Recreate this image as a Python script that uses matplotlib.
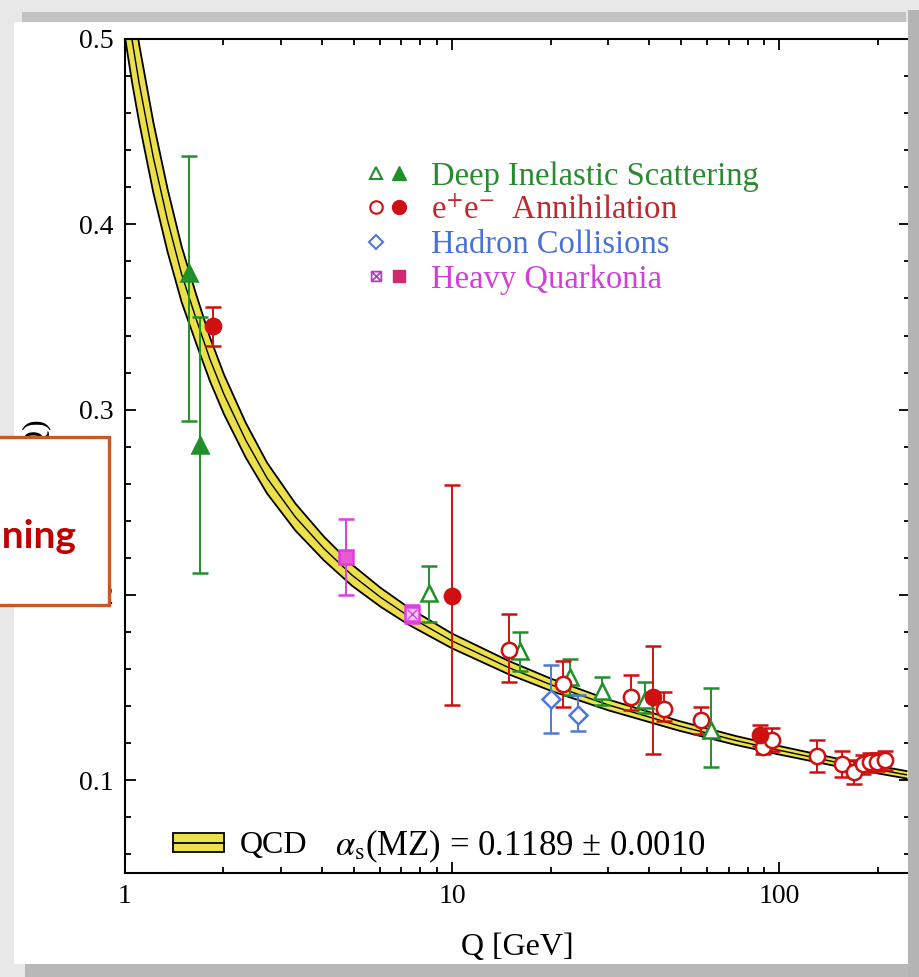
import matplotlib
matplotlib.use("Agg")
import matplotlib.pyplot as plt
from matplotlib.patches import Rectangle, Patch
from matplotlib.lines import Line2D
from matplotlib.path import Path
from matplotlib.legend_handler import HandlerTuple
from matplotlib.ticker import MultipleLocator, LogLocator, FixedFormatter, FixedLocator, NullFormatter

plt.rcParams['font.family'] = ['Liberation Serif', 'DejaVu Serif']
plt.rcParams['mathtext.fontset'] = 'stix'

# QCD band
qcd_q = [1.0, 1.05, 1.105, 1.221, 1.35, 1.49, 1.65, 1.82, 2.01, 2.34, 2.72, 3.32, 4.06,
         4.95, 6.05, 7.39, 9.97, 14.9, 20.1, 30.0, 49.4, 73.7, 99.5, 148, 245]
qcd_alpha = [0.525, 0.500, 0.476, 0.436, 0.402, 0.373, 0.349, 0.327, 0.308, 0.2835, 0.263,
             0.242, 0.225, 0.2106, 0.1987, 0.1884, 0.1753, 0.1608, 0.1515, 0.1407, 0.1294,
             0.1215, 0.1163, 0.1099, 0.1030]
qcd_half = [0.024, 0.023, 0.021, 0.019, 0.017, 0.015, 0.0132, 0.0118, 0.0107, 0.0094,
            0.0083, 0.0073, 0.0064, 0.0057, 0.0051, 0.0046, 0.0040, 0.0036, 0.0033, 0.0029,
            0.0026, 0.0024, 0.0023, 0.0021, 0.0020]

# Deep inelastic scattering
dis_open_q = [8.5, 16.1, 22.9, 28.8, 38.9, 62]
dis_open_a = [0.201, 0.170, 0.156, 0.148, 0.1435, 0.1274]
dis_open_lo = [0.0155, 0.011, 0.0097, 0.0075, 0.007, 0.0204]
dis_open_hi = [0.0145, 0.010, 0.0097, 0.0075, 0.0097, 0.0226]
dis_fill_q = [1.57, 1.70]
dis_fill_a = [0.374, 0.281]
dis_fill_lo = [0.080, 0.069]
dis_fill_hi = [0.063, 0.069]

# e+e- annihilation
ee_fill_q = [1.86, 10.0, 41.2, 87.5]
ee_fill_a = [0.345, 0.1995, 0.145, 0.1247]
ee_fill_lo = [0.0108, 0.0586, 0.0306, 0.006]
ee_fill_hi = [0.0102, 0.060, 0.0274, 0.0054]
ee_open_q = [14.9, 21.9, 35.3, 44.5, 57.7, 89.3, 95.2, 130.7, 156, 169.6, 180.6, 189.8, 199.5, 211]
ee_open_a = [0.1704, 0.152, 0.1452, 0.1387, 0.1323, 0.118, 0.122, 0.113, 0.1086, 0.1043,
             0.1086, 0.1097, 0.110, 0.1108]
ee_open_lo = [0.0172, 0.0124, 0.0075, 0.0065, 0.0075, 0.004, 0.006, 0.0085, 0.007, 0.0065,
              0.005, 0.005, 0.005, 0.005]
ee_open_hi = [0.0194, 0.0124, 0.0118, 0.009, 0.0075, 0.004, 0.006, 0.0085, 0.007, 0.0065,
              0.005, 0.005, 0.005, 0.005]

# Hadron collisions
had_q = [20.1, 24.3]
had_a = [0.144, 0.1355]
had_lo = [0.0183, 0.0091]
had_hi = [0.0183, 0.0108]

# Heavy quarkonia
hq_fill_q = [4.74]
hq_fill_a = [0.2204]
hq_fill_err = [0.0204]
hq_box_q = [7.55]
hq_box_a = [0.1898]
hq_box_err = [0.005]

GREEN = '#22902a'
RED = '#d01010'
BLUE = '#4f78d8'
MAG = '#e03ce0'
YELLOW = '#ebe04a'

W, H = 920, 977
fig = plt.figure(figsize=(W / 100, H / 100), dpi=100, facecolor='#e8e8e8')


def px_rect(x0, y0, x1, y1, **kw):
    return Rectangle((x0 / W, 1 - y1 / H), (x1 - x0) / W, (y1 - y0) / H,
                     transform=fig.transFigure, **kw)


# slide frame
fig.add_artist(px_rect(14, 22, 908, 964, facecolor='white', edgecolor='none', zorder=-5))
fig.add_artist(px_rect(22, 12, 906, 22, facecolor='#c2c2c2', edgecolor='none', zorder=-5))

ax = fig.add_axes([125 / W, 1 - 873 / H, 785 / W, 834 / H])
ax.set_xscale('log')
ax.set_xlim(1, 251)
ax.set_ylim(0.05, 0.5)

# QCD band
lo = [a - h for a, h in zip(qcd_alpha, qcd_half)]
hi = [a + h for a, h in zip(qcd_alpha, qcd_half)]
ax.fill_between(qcd_q, lo, hi, color=YELLOW, lw=0, zorder=1)
ax.plot(qcd_q, lo, color='black', lw=1.3, zorder=2)
ax.plot(qcd_q, hi, color='black', lw=1.3, zorder=2)
ax.plot(qcd_q, qcd_alpha, color='black', lw=1.0, zorder=2)

eb = dict(capsize=6, elinewidth=1.4, capthick=1.4, markersize=11, mew=1.8, ls='none', zorder=4)

ax.errorbar(dis_open_q, dis_open_a, yerr=[dis_open_lo, dis_open_hi], fmt='^',
            color=GREEN, mfc='white', mec=GREEN, **eb)
ax.errorbar(dis_fill_q, dis_fill_a, yerr=[dis_fill_lo, dis_fill_hi], fmt='^',
            color=GREEN, mfc=GREEN, mec=GREEN, **eb)
ax.errorbar(ee_open_q, ee_open_a, yerr=[ee_open_lo, ee_open_hi], fmt='o',
            color=RED, mfc='white', mec=RED, **eb)
ax.errorbar(ee_fill_q, ee_fill_a, yerr=[ee_fill_lo, ee_fill_hi], fmt='o',
            color=RED, mfc=RED, mec=RED, **eb)
ax.errorbar(had_q, had_a, yerr=[had_lo, had_hi], fmt='D',
            color=BLUE, mfc='white', mec=BLUE, **{**eb, 'markersize': 9})

boxx = Path([(-1, -1), (1, -1), (1, 1), (-1, 1), (-1, -1), (-1, -1), (1, 1), (-1, 1), (1, -1)],
            [Path.MOVETO, Path.LINETO, Path.LINETO, Path.LINETO, Path.CLOSEPOLY,
             Path.MOVETO, Path.LINETO, Path.MOVETO, Path.LINETO])
ax.errorbar(hq_box_q, hq_box_a, yerr=hq_box_err, fmt='s', color=MAG, mfc='#f6c8f6',
            mec=MAG, **{**eb, 'markersize': 10})
ax.plot(hq_box_q, hq_box_a, ls='none', marker='x', ms=7, mec=MAG, mew=1.0, zorder=5)
ax.errorbar(hq_fill_q, hq_fill_a, yerr=hq_fill_err, fmt='s', color=MAG, mfc='#e85ad0',
            mec=MAG, **{**eb, 'markersize': 10})

# axes styling
ax.xaxis.set_major_locator(FixedLocator([1, 10, 100]))
ax.xaxis.set_major_formatter(FixedFormatter(['1', '10', '100']))
ax.xaxis.set_minor_locator(LogLocator(base=10, subs=range(2, 10)))
ax.xaxis.set_minor_formatter(NullFormatter())
ax.yaxis.set_major_locator(MultipleLocator(0.1))
ax.yaxis.set_minor_locator(MultipleLocator(0.02))
ax.tick_params(which='both', direction='in', top=True, right=True, labelsize=20, width=1.3)
ax.tick_params(which='major', length=8, pad=8)
ax.tick_params(which='minor', length=4)
for s in ax.spines.values():
    s.set_linewidth(1.5)

ax.set_xlabel('Q [GeV]', fontsize=23, labelpad=17)
ax.set_ylabel(r'$\alpha_{\rm s}$(Q)', fontsize=23)
ax.yaxis.set_label_coords(-0.091, 0.5)

# experiment legend
leg_handles = [
    (Line2D([], [], ls='none', marker='^', ms=9, mfc='white', mec=GREEN, mew=1.5),
     Line2D([], [], ls='none', marker='^', ms=10, color=GREEN)),
    (Line2D([], [], ls='none', marker='o', ms=9, mfc='white', mec=RED, mew=1.5),
     Line2D([], [], ls='none', marker='o', ms=10, color=RED)),
    (Line2D([], [], ls='none', marker='D', ms=7, mfc='white', mec=BLUE, mew=1.5),
     Line2D([], [], ls='none', marker='none')),
    (Line2D([], [], ls='none', marker=boxx, ms=7, mfc='none', mec='#b040c0', mew=1.3),
     Line2D([], [], ls='none', marker='s', ms=9, color='#d02a70')),
]
leg_labels = ['Deep Inelastic Scattering', r'e$^{+}$e$^{-}$  Annihilation',
              'Hadron Collisions', 'Heavy Quarkonia']
leg_colors = ['#2a8a32', '#c0282d', '#4a72d4', '#d040d8']
leg = ax.legend(leg_handles, leg_labels, handler_map={tuple: HandlerTuple(ndivide=None, pad=0.17)},
                loc='upper left', bbox_to_anchor=((368 - 125) / 785, (873 - 161) / 834),
                frameon=False, fontsize=23.5, borderpad=0, borderaxespad=0,
                handlelength=1.2, handletextpad=0.73, labelspacing=0.12)
for t, c in zip(leg.get_texts(), leg_colors):
    t.set_color(c)
ax.add_artist(leg)

# QCD legend at bottom
band_handle = (Patch(facecolor=YELLOW, edgecolor='black', lw=1.3),
               Line2D([], [], color='black', lw=1.3))
ax.legend([band_handle], ['QCD'], handler_map={tuple: HandlerTuple(ndivide=1)},
          loc='center left', bbox_to_anchor=((173 - 125) / 785, (873 - 846) / 834),
          frameon=False, fontsize=23, borderpad=0, borderaxespad=0,
          handlelength=1.6, handleheight=0.55, handletextpad=0.5)
ax.text((335 - 125) / 785, (873 - 846) / 834, r'$\alpha_{\rm s}$(MZ) = 0.1189 ± 0.0010',
        transform=ax.transAxes, fontsize=25, va='center', ha='left')

# frame shadows over the plot edges
fig.add_artist(px_rect(908, 10, 920, 977, facecolor='#b4b4b4', edgecolor='none', zorder=8))
fig.add_artist(px_rect(25, 964, 908, 977, facecolor='#b8b8b8', edgecolor='none', zorder=8))

# overlaid slide box
fig.add_artist(px_rect(-10, 437, 109, 605, facecolor='white', edgecolor='#c55a28',
                       lw=2.4, zorder=9))
fig.text(77 / W, 1 - 548 / H, 'Running', ha='right', va='baseline', fontsize=28,
         fontweight='bold', color='#c00000', family=['Lato', 'DejaVu Sans'], zorder=10)

fig.savefig('out.png', dpi=100, facecolor=fig.get_facecolor())
